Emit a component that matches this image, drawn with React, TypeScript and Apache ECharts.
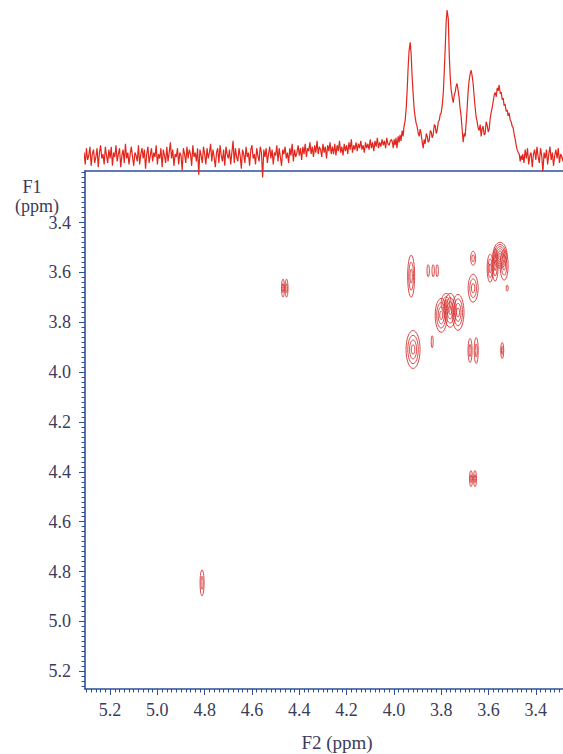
import React, { useEffect, useRef } from "react";
import * as echarts from "echarts";

// Axis ranges (ppm)
const F2_MIN = 3.285;
const F2_MAX = 5.306;
const F1_MIN = 3.193;
const F1_MAX = 5.271;

// Tick labels
const xMajorTicks = [5.2, 5.0, 4.8, 4.6, 4.4, 4.2, 4.0, 3.8, 3.6, 3.4];
const yMajorTicks = [3.4, 3.6, 3.8, 4.0, 4.2, 4.4, 4.6, 4.8, 5.0, 5.2];

// 1D projection: baseline noise left of the peaks (start 5.31 ppm, step 0.005 ppm)
const noiseLeftStart = 5.31;
const noiseStep = 0.005;
const noiseLeft = [
  3, -5, 6, -2, 1, 7, -6, 2, 5, -4,
  0, 6, -7, 3, 8, -1, 2, -5, 7, 1,
  -4, 5, -1, 7, -6, 3, 0, 8, -3, 2,
  6, -7, 1, 5, -4, 9, -1, 3, -5, 2,
  7, 0, -6, 3, 1, -3, 8, -5, 2, 6,
  -1, 5, -8, 2, 7, -4, 1, 6, -3, 3,
  0, 8, -5, 2, -1, 6, -7, 5, 1, -4,
  7, -3, 3, 10, -1, 5, -6, 2, 0, 6,
  -5, 3, 1, -9, 6, 2, -4, 7, -1, 5,
  2, -6, 8, 0, 3, -3, 6, -12, 5, 1,
  -4, 7, 2, -5, 6, -1, 3, 9, -3, 5,
  0, -7, 3, 6, -4, 8, 1, -3, 5, -6,
  7, 2, -1, 5, -5, 3, 11, -4, 6, 0,
  -3, 6, 1, -8, 5, 2, -4, 7, 0, 3,
  -6, 5, 8, -1, 2, -5, 6, 1, -3, 7,
  3, -14, 5, 0, 6, -4, 2, 7, -1, 5,
  -5, 3, 1, 8, -3, 6, 0, -6, 5, 2,
  7, -1, 3, -4, 6, 1, 9, -3, 5, 0,
  3, 8, 1, 6, -2, 7, 2, 9, 0, 6,
  4, 10, 2, 7, 0, 8, 3, 11, 2, 7,
  5, 0, 9, 3, 7, -1, 8, 4, 10, 2,
  7, 2, 9, 1, 8, 4, 11, 3, 7, 1,
  9, 4, 8, 2, 10, 5, 12, 3, 8, 5,
  10, 4, 9, 6, 11, 5, 8, 3, 10, 6,
  9, 5, 12, 6, 10, 4, 11, 7, 13, 6,
  10, 7, 12, 8, 11, 6, 13, 9, 8, 11,
  12, 9,
];

// 1D projection: peak region [ppm, intensity]
const peakRegion: [number, number][] = [
  [4.003, 6], [3.999, 12], [3.995, 8], [3.991, 13], [3.987, 6], [3.982, 14], [3.978, 10],
  [3.974, 15], [3.970, 11], [3.965, 18], [3.961, 14], [3.957, 21],
  [3.953, 24], [3.948, 33], [3.944, 45], [3.940, 60], [3.936, 72], [3.931, 78],
  [3.927, 70], [3.923, 55], [3.919, 44], [3.914, 32],
  [3.910, 27], [3.906, 23], [3.902, 21], [3.897, 16], [3.893, 14], [3.889, 19],
  [3.885, 16], [3.880, 10], [3.876, 6], [3.872, 12], [3.868, 9], [3.863, 16],
  [3.859, 14], [3.855, 10], [3.851, 11], [3.846, 18], [3.842, 17], [3.838, 13],
  [3.834, 15], [3.829, 22], [3.825, 21], [3.821, 16], [3.817, 18], [3.812, 24],
  [3.808, 25], [3.804, 29], [3.800, 30], [3.795, 36], [3.791, 44], [3.787, 58],
  [3.783, 74], [3.779, 92], [3.775, 100], [3.770, 94], [3.766, 70], [3.762, 55],
  [3.758, 46], [3.753, 40], [3.749, 37], [3.745, 42], [3.741, 44], [3.737, 48],
  [3.733, 50], [3.729, 46], [3.724, 40], [3.720, 33], [3.716, 28], [3.711, 18],
  [3.707, 10], [3.703, 16], [3.699, 14], [3.694, 24], [3.690, 34], [3.686, 45],
  [3.682, 52], [3.677, 57], [3.673, 59], [3.669, 55], [3.665, 50], [3.660, 40],
  [3.656, 33], [3.652, 27], [3.648, 24], [3.644, 20], [3.640, 18], [3.635, 22],
  [3.631, 14], [3.627, 19], [3.623, 21], [3.618, 15], [3.614, 16], [3.610, 24],
  [3.606, 22], [3.601, 17], [3.597, 19], [3.593, 26], [3.589, 30], [3.584, 34],
  [3.580, 38], [3.576, 42], [3.572, 44], [3.567, 41], [3.563, 47], [3.559, 45],
  [3.555, 49], [3.550, 43], [3.546, 44], [3.542, 39], [3.538, 40], [3.534, 35],
  [3.530, 36], [3.525, 31], [3.521, 32], [3.517, 28], [3.513, 30], [3.508, 25],
  [3.504, 24], [3.500, 21], [3.496, 20], [3.491, 15], [3.487, 12], [3.483, 8],
  [3.479, 5], [3.474, 3], [3.470, 2], [3.466, -3], [3.462, 1], [3.458, -2],
];

// 1D projection: baseline noise right of the peaks (start 3.455 ppm, step 0.005 ppm)
const noiseRightStart = 3.455;
const noiseRight = [
  2, -4, 5, -1, 6, -5, 1, 3, -7, 2,
  5, -2, 7, 0, -4, 6, 1, -10, 3, -1,
  5, -5, 2, 7, -2, 3, -6, 1, 5, -1,
  6, -4, 2, 0, -3, 5,
];

// 2D cross peaks: [F2 ppm, F1 ppm, half-width F2, half-width F1, contour levels]
const contourPeaks: [number, number, number, number, number][] = [
  [4.469, 3.663, 0.0063, 0.036, 2],
  [4.454, 3.663, 0.0063, 0.036, 2],
  [4.811, 4.845, 0.0085, 0.052, 2],
  [3.674, 4.427, 0.0063, 0.032, 2],
  [3.657, 4.427, 0.0063, 0.032, 2],
  [3.927, 3.615, 0.0148, 0.084, 3],
  [3.855, 3.593, 0.005, 0.024, 1],
  [3.834, 3.593, 0.005, 0.024, 1],
  [3.817, 3.593, 0.005, 0.024, 1],
  [3.800, 3.772, 0.0254, 0.068, 4],
  [3.762, 3.752, 0.0254, 0.068, 4],
  [3.729, 3.760, 0.0254, 0.072, 4],
  [3.779, 3.724, 0.0211, 0.04, 3],
  [3.665, 3.663, 0.0211, 0.056, 3],
  [3.665, 3.543, 0.0106, 0.028, 2],
  [3.551, 3.531, 0.0296, 0.052, 6],
  [3.593, 3.583, 0.0127, 0.056, 3],
  [3.572, 3.571, 0.0127, 0.064, 3],
  [3.534, 3.571, 0.0169, 0.06, 3],
  [3.521, 3.663, 0.0042, 0.012, 1],
  [3.919, 3.909, 0.0296, 0.076, 4],
  [3.838, 3.878, 0.0042, 0.024, 1],
  [3.678, 3.913, 0.0085, 0.048, 2],
  [3.652, 3.913, 0.0085, 0.052, 2],
  [3.542, 3.913, 0.0063, 0.032, 2],
];

const FONT = "'Times New Roman', 'Liberation Serif', Times, serif";
const AXIS_BLUE = "#2f4f9a";
const TEXT_COLOR = "#3b3b5b";
const SPEC_RED = "#e2261c";
const CONTOUR_RED = "#d63434";

function tickValues(lo: number, hi: number, step: number): number[] {
  const out: number[] = [];
  const n = Math.round((hi - lo) / step);
  for (let i = 0; i <= n; i++) out.push(Math.round((lo + i * step) * 1000) / 1000);
  return out;
}

export default function App() {
  const ref = useRef<HTMLDivElement>(null);

  useEffect(() => {
    if (!ref.current) return;
    const chart = echarts.init(ref.current, null, { renderer: "svg" });

    const projection: [number, number][] = [];
    noiseLeft.forEach((v, i) => projection.push([noiseLeftStart - i * noiseStep, v]));
    peakRegion.forEach((p) => projection.push(p));
    noiseRight.forEach((v, i) => projection.push([noiseRightStart - i * noiseStep, v]));

    const xMinor = tickValues(3.3, 5.3, 0.02);
    const yMinor = tickValues(3.2, 5.26, 0.02);

    const tickStyle = { color: AXIS_BLUE, width: 1 };
    const textStyle = { fontSize: 18, fontFamily: FONT, fill: TEXT_COLOR, align: "center", verticalAlign: "middle" };

    const option: any = {
      animation: false,
      backgroundColor: "#ffffff",
      grid: [
        { left: 85, right: 0, top: 171, height: 518 },
        { left: 85, right: 0, top: 10, height: 147 },
        { left: 85, right: 0, top: 171, height: 518 },
      ],
      xAxis: [
        {
          gridIndex: 0,
          type: "value",
          inverse: true,
          min: F2_MIN,
          max: F2_MAX,
          position: "bottom",
          axisLine: { show: true, lineStyle: { color: AXIS_BLUE, width: 1.6 } },
          axisTick: { show: true, customValues: xMajorTicks, length: 6, lineStyle: tickStyle },
          axisLabel: {
            show: true,
            customValues: xMajorTicks,
            formatter: (v: number) => v.toFixed(1),
            margin: 12,
            fontSize: 18,
            fontFamily: FONT,
            color: TEXT_COLOR,
          },
          splitLine: { show: false },
        },
        {
          gridIndex: 0,
          type: "value",
          inverse: true,
          min: F2_MIN,
          max: F2_MAX,
          position: "top",
          axisLine: { show: true, lineStyle: { color: AXIS_BLUE, width: 1.6 } },
          axisTick: { show: false },
          axisLabel: { show: false },
          splitLine: { show: false },
        },
        {
          gridIndex: 1,
          type: "value",
          inverse: true,
          min: F2_MIN,
          max: F2_MAX,
          show: false,
        },
        {
          gridIndex: 2,
          type: "value",
          inverse: true,
          min: F2_MIN,
          max: F2_MAX,
          position: "bottom",
          axisLine: { show: false },
          axisTick: { show: true, customValues: xMinor, length: 3.5, lineStyle: tickStyle },
          axisLabel: { show: false },
          splitLine: { show: false },
        },
      ],
      yAxis: [
        {
          gridIndex: 0,
          type: "value",
          inverse: true,
          min: F1_MIN,
          max: F1_MAX,
          position: "left",
          axisLine: { show: true, lineStyle: { color: AXIS_BLUE, width: 1.6 } },
          axisTick: { show: true, customValues: yMajorTicks, length: 6, lineStyle: tickStyle },
          axisLabel: {
            show: true,
            customValues: yMajorTicks,
            formatter: (v: number) => v.toFixed(1),
            margin: 14,
            fontSize: 18,
            fontFamily: FONT,
            color: TEXT_COLOR,
          },
          splitLine: { show: false },
        },
        {
          gridIndex: 1,
          type: "value",
          min: 0,
          max: 100,
          show: false,
        },
        {
          gridIndex: 2,
          type: "value",
          inverse: true,
          min: F1_MIN,
          max: F1_MAX,
          position: "left",
          axisLine: { show: false },
          axisTick: { show: true, customValues: yMinor, length: 3.5, lineStyle: tickStyle },
          axisLabel: { show: false },
          splitLine: { show: false },
        },
      ],
      graphic: [
        { type: "text", x: 32, y: 187, style: { text: "F1", ...textStyle } },
        { type: "text", x: 37, y: 206, style: { text: "(ppm)", ...textStyle } },
        { type: "text", x: 337, y: 742, style: { text: "F2 (ppm)", ...textStyle, fontSize: 19 } },
      ],
      series: [
        {
          type: "custom",
          xAxisIndex: 0,
          yAxisIndex: 0,
          data: contourPeaks,
          renderItem: (params: any, api: any) => {
            const c = api.coord([api.value(0), api.value(1)]);
            const s = api.size([api.value(2), api.value(3)]);
            const rx = Math.abs(s[0]);
            const ry = Math.abs(s[1]);
            const n = api.value(4);
            const children: any[] = [];
            for (let k = n; k >= 1; k--) {
              children.push({
                type: "ellipse",
                shape: { cx: c[0], cy: c[1], rx: (rx * k) / n, ry: (ry * k) / n },
                style: { fill: "none", stroke: CONTOUR_RED, lineWidth: 0.9 },
              });
            }
            return { type: "group", children };
          },
        },
        {
          type: "line",
          xAxisIndex: 2,
          yAxisIndex: 1,
          data: projection,
          showSymbol: false,
          symbol: "none",
          clip: false,
          lineStyle: { color: SPEC_RED, width: 1.2 },
        },
      ],
    };

    chart.setOption(option);
    return () => chart.dispose();
  }, []);

  return (
    <div
      ref={ref}
      style={{ position: "absolute", left: 0, top: 0, width: 563, height: 754, background: "#fff" }}
    />
  );
}
